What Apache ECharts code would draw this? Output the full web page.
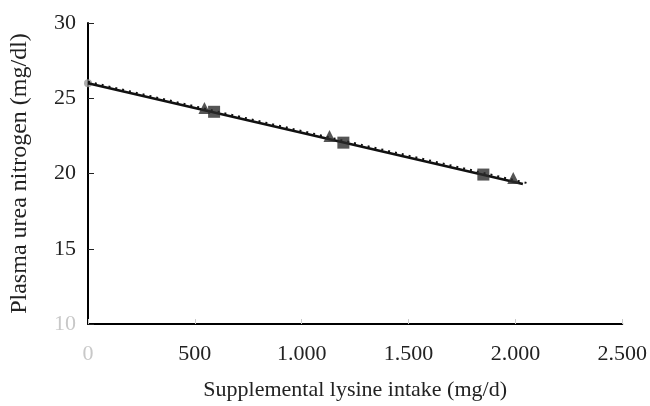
<!DOCTYPE html>
<html lang="en">
<head>
    <meta charset="UTF-8">
    <script src="https://cdn.jsdelivr.net/npm/echarts@6/dist/echarts.min.js"></script>
    <title>Plasma urea nitrogen</title>
</head>
<style>
    body{
        width: 100%;
        height: 100%;
        margin: 0;
        padding: 0;
        background: #fff;
    }
</style>
<body>
<div id="chart" style="width: 650px;height:406px;"></div>
</body>
<script>
    // lysine intake (mg/d) vs PUN (mg/dl)
    var xTicks = [0, 500, 1000, 1500, 2000, 2500];
    var yTicks = [10, 15, 20, 25, 30];

    var controlX = [0];
    var controlY = [26.0];

    var squareX = [590, 1195, 1850];
    var squareY = [24.1, 22.05, 19.93];

    var triangleX = [545, 1130, 1990];
    var triangleY = [24.35, 22.5, 19.7];

    // fitted lines, start and end points
    var solidX = [0, 2035];
    var solidY = [26.0, 19.3];
    var dottedX = [0, 2060];
    var dottedY = [26.1, 19.35];

    function pairs(xs, ys) {
        var out = [];
        for (var i = 0; i < xs.length; i++) {
            out.push([xs[i], ys[i]]);
        }
        return out;
    }

    var font = '"Liberation Serif", "DejaVu Serif", serif';

    var chart = echarts.init(document.getElementById("chart"));
    var option = {
        backgroundColor: '#fff',
        animation: false,
        grid: {
            left: 88,
            right: 25,
            top: 23,
            bottom: 79
        },
        xAxis: {
            type: 'value',
            min: xTicks[0],
            max: xTicks[xTicks.length - 1],
            interval: 500,
            name: 'Supplemental lysine intake (mg/d)',
            nameLocation: 'middle',
            nameGap: 55,
            nameTextStyle: {
                fontFamily: font,
                fontSize: 22,
                color: '#222'
            },
            axisLine: {lineStyle: {color: '#000', width: 2}},
            axisTick: {inside: true, length: 5, lineStyle: {color: '#ccc'}},
            splitLine: {show: false},
            axisLabel: {
                fontFamily: font,
                fontSize: 22,
                margin: 19,
                color: function (v) {
                    return v == 0 ? '#c8c8c8' : '#222';
                },
                formatter: function (v) {
                    return v >= 1000 ? Math.floor(v / 1000) + '.' + ('00' + (v % 1000)).slice(-3) : '' + v;
                }
            }
        },
        yAxis: {
            type: 'value',
            min: yTicks[0],
            max: yTicks[yTicks.length - 1],
            interval: 5,
            name: 'Plasma urea nitrogen (mg/dl)',
            nameLocation: 'middle',
            nameGap: 56,
            nameTextStyle: {
                fontFamily: font,
                fontSize: 24,
                color: '#222'
            },
            axisLine: {show: true, lineStyle: {color: '#000', width: 2}},
            axisTick: {show: true, inside: true, length: 6, lineStyle: {color: '#222'}},
            splitLine: {show: false},
            axisLabel: {
                fontFamily: font,
                fontSize: 22,
                margin: 12,
                color: function (v) {
                    return v == 10 ? '#c8c8c8' : '#222';
                }
            }
        },
        series: [{
            type: 'line',
            data: pairs(dottedX, dottedY),
            symbol: 'none',
            lineStyle: {color: '#111', width: 2, type: [2, 5]},
            z: 2
        }, {
            type: 'line',
            data: pairs(solidX, solidY),
            symbol: 'none',
            lineStyle: {color: '#111', width: 2.5},
            z: 3
        }, {
            type: 'scatter',
            data: pairs(squareX, squareY),
            symbol: 'rect',
            symbolSize: 12,
            itemStyle: {color: '#2a2a2a'},
            z: 4
        }, {
            type: 'scatter',
            data: pairs(triangleX, triangleY),
            symbol: 'triangle',
            symbolSize: 12,
            itemStyle: {color: '#2a2a2a'},
            z: 4
        }, {
            type: 'scatter',
            data: pairs(controlX, controlY),
            symbol: 'circle',
            symbolSize: 8,
            itemStyle: {color: '#999'},
            z: 1
        }]
    };
    chart.setOption(option);
</script>
</html>
